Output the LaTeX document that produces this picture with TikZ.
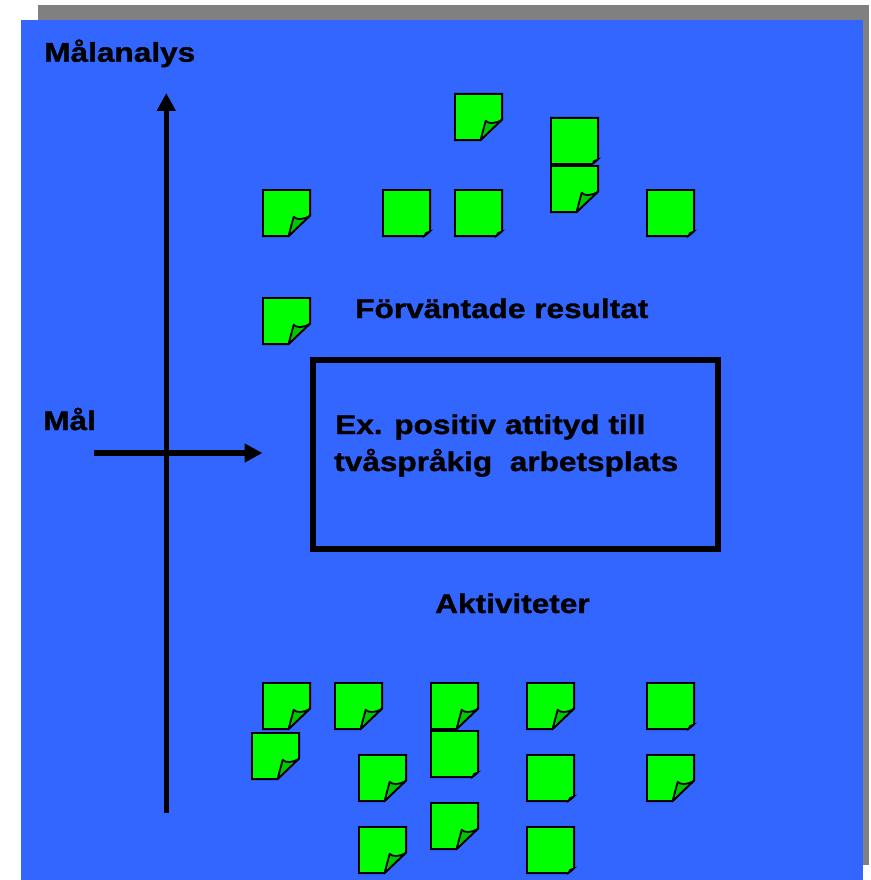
\documentclass[tikz,border=0pt]{standalone}
\usepackage{fontspec}
\setmainfont{Liberation Sans}[FakeStretch=1.17, BoldFeatures={FakeBold=1.2}]
\usetikzlibrary{arrows.meta}

\definecolor{slideblue}{RGB}{51,102,255}
\definecolor{shadowgray}{RGB}{128,128,128}
\definecolor{notegreen}{RGB}{0,255,0}
\definecolor{curlgreen}{RGB}{0,200,0}

\tikzset{
  label text/.style={anchor=base west, inner sep=0pt, text=black,
    font=\bfseries\fontsize{27}{37}\selectfont},
  axis/.style={line width=5.5pt, draw=black,
    -{Triangle[width=18pt,length=18pt]}},
  notebody/.style={fill=notegreen, draw=black, line width=1.8pt, line join=miter},
  notecurl/.style={fill=curlgreen, draw=black, line width=1.8pt, line join=round},
  notetip/.style={fill=black, draw=black, line width=1.2pt},
}

% sticky note with a large folded corner; #1,#2 = top-left corner
\newcommand{\bignote}[2]{%
  \begin{scope}[shift={(#1,#2)}]
    \path[notebody] (0.9,0.9) -- (48.1,0.9) -- (48.1,26.5)
      -- (26.5,47.1) -- (0.9,47.1) -- cycle;
    \path[notecurl] (26.5,47.1) -- (31.7,27.7)
      .. controls (34,31) and (42,31) .. (48.1,26.5) -- cycle;
  \end{scope}}

% sticky note with a small folded corner; #1,#2 = top-left corner
\newcommand{\smallnote}[2]{%
  \begin{scope}[shift={(#1,#2)}]
    \path[notebody] (0.9,0.9) -- (48.1,0.9) -- (48.1,42.3)
      -- (42.3,47.1) -- (0.9,47.1) -- cycle;
    \path[notetip] (42.3,47.1) -- (43.8,43.8) -- (48.1,42.3) -- cycle;
  \end{scope}}

\begin{document}
\begin{tikzpicture}[x=1pt, y=-1pt]
  \useasboundingbox (0,0) rectangle (870,880);

  % slide with drop shadow
  \fill[shadowgray] (38,5) rectangle (869,865);
  \fill[slideblue] (21,20) rectangle (863,880);

  % titles
  \node[label text] (title) at (44,61.7) {Målanalys};
  \node[label text] (goal) at (43,430) {Mål};
  \node[label text] (results) at (355,318) {Förväntade resultat};
  \node[label text] (activities) at (435,613) {Aktiviteter};

  % goal box
  \node[draw=black, line width=5.5pt, minimum width=405pt, minimum height=189pt,
        inner sep=0pt, anchor=north west] (goalbox) at (310,357) {};
  \node[label text] (goal1) at (335,434) {Ex. positiv attityd till};
  \node[label text] (goal2) at (334,471) {tvåspråkig\ \ arbetsplats};

  % axes
  \coordinate (vbottom) at (166.3,813);
  \coordinate (vtop) at (166.3,93);
  \coordinate (hleft) at (94,453);
  \coordinate (hright) at (262.5,453);
  \draw[axis] (vbottom) -- (vtop);
  \draw[axis] (hleft) -- (hright);

  % notes: expected results
  \bignote{454}{93}
  \smallnote{550}{117}
  \bignote{550}{165}
  \bignote{262}{189}
  \smallnote{382}{189}
  \smallnote{454}{189}
  \smallnote{646}{189}
  \bignote{262}{297}

  % notes: activities
  \bignote{262}{682}
  \bignote{334}{682}
  \bignote{430}{682}
  \bignote{526}{682}
  \smallnote{646}{682}
  \bignote{251}{732}
  \smallnote{430}{730}
  \bignote{358}{754}
  \smallnote{526}{754}
  \bignote{646}{754}
  \bignote{430}{802}
  \bignote{358}{826}
  \smallnote{526}{826}
\end{tikzpicture}
\end{document}
